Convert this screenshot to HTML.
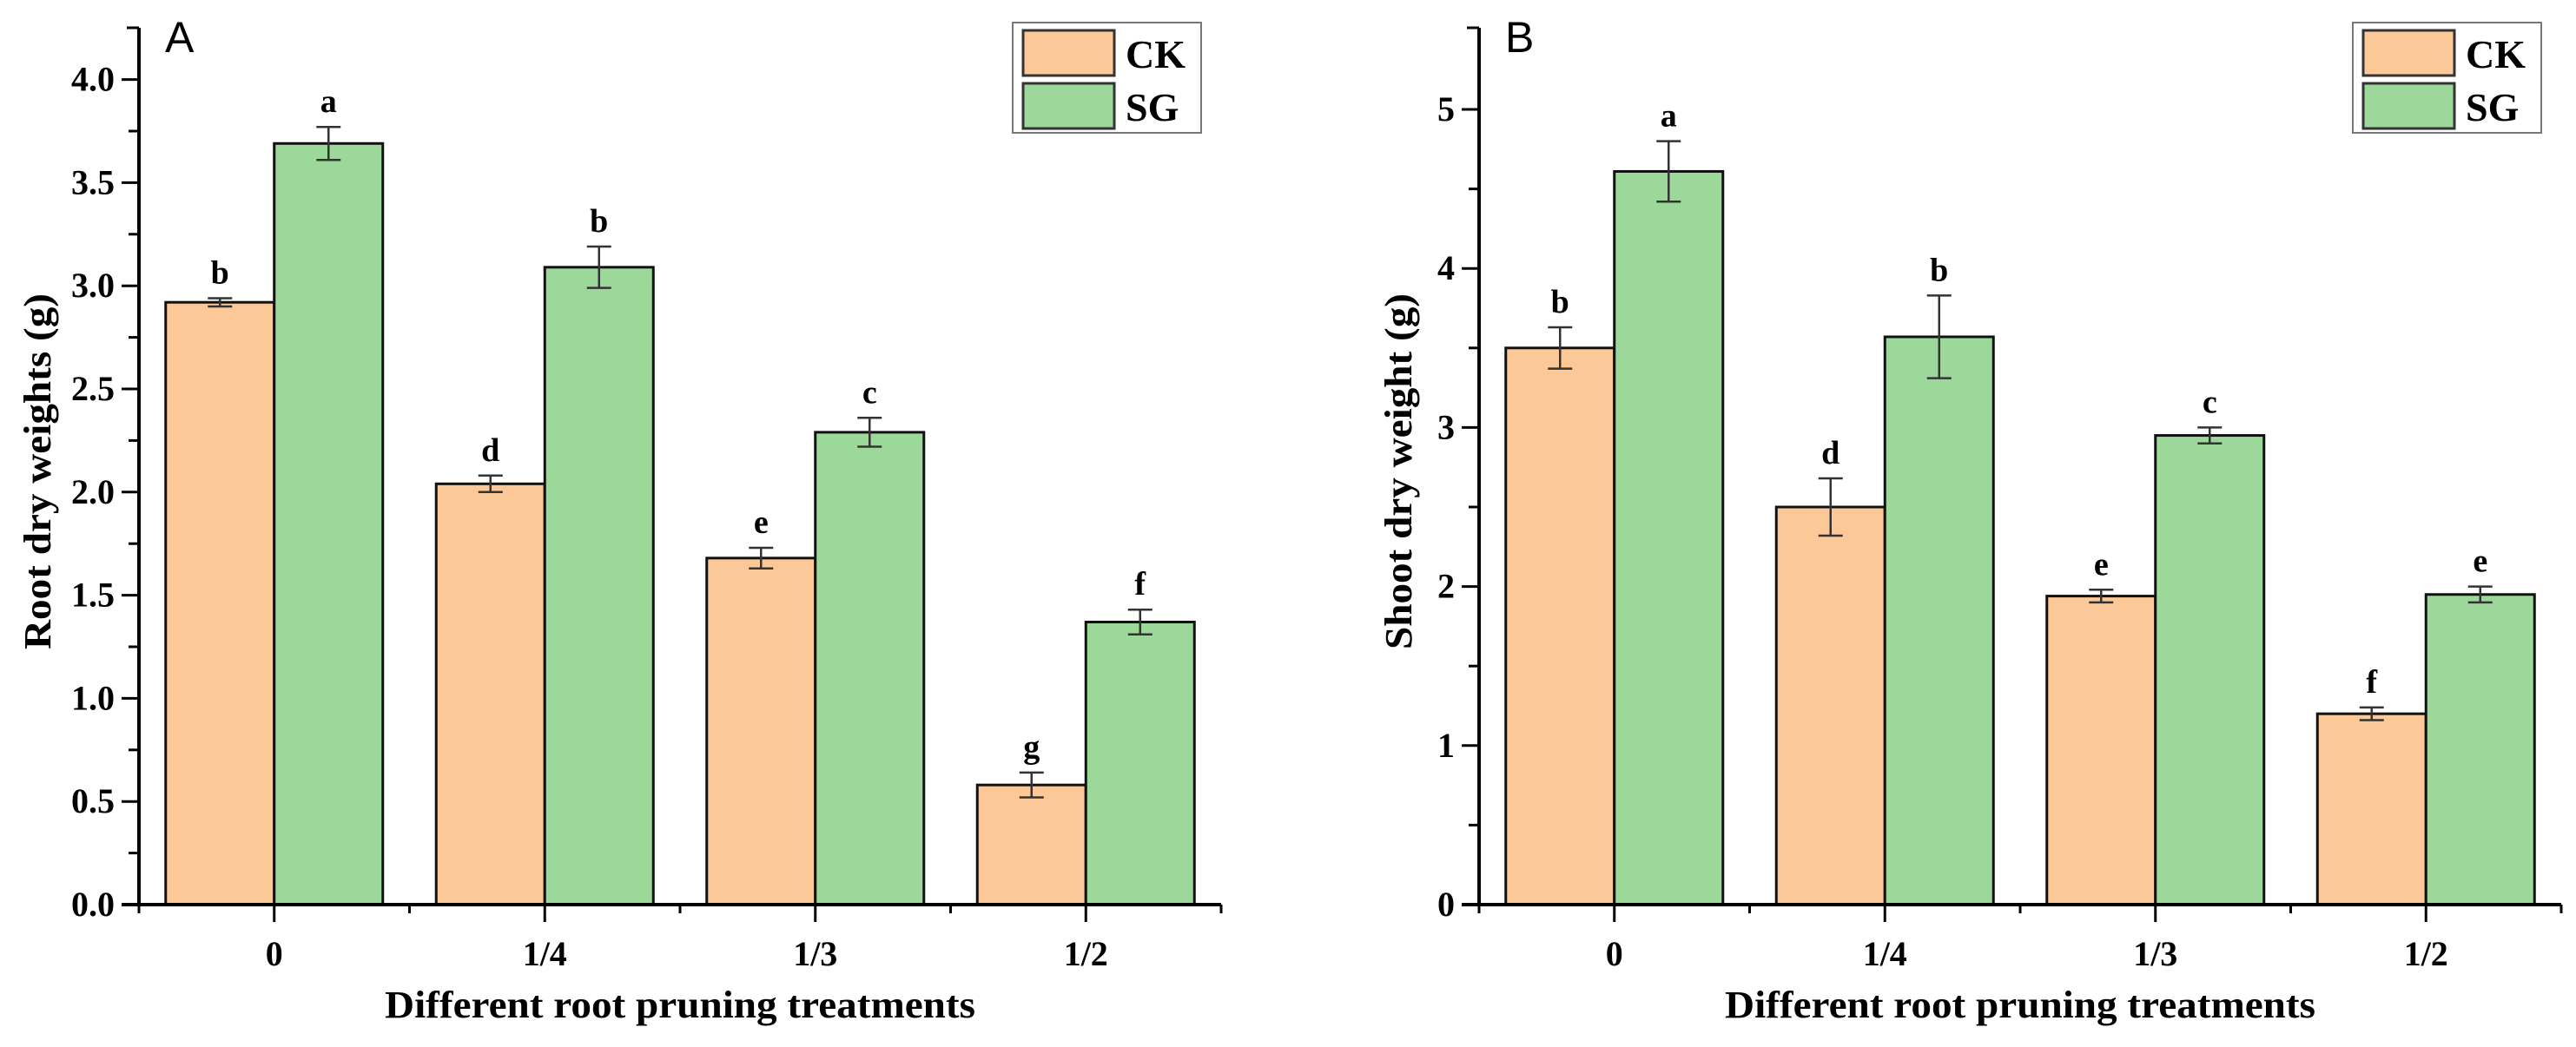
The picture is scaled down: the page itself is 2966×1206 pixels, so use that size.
<!DOCTYPE html>
<html><head><meta charset="utf-8">
<style>
html,body{margin:0;padding:0;background:#fff;}
svg{display:block;}
text{font-family:"Liberation Serif",serif;font-weight:bold;fill:#000;}
</style></head>
<body>
<svg id="chart" width="2966" height="1206" viewBox="0 0 2966 1206" xmlns="http://www.w3.org/2000/svg"></svg>
<script>
const categories = ["0", "1/4", "1/3", "1/2"];
const seriesNames = ["CK", "SG"];
const rootCK = [2.92, 2.04, 1.68, 0.58];
const rootSG = [3.69, 3.09, 2.29, 1.37];
const rootCKErr = [0.02, 0.04, 0.05, 0.06];
const rootSGErr = [0.08, 0.10, 0.07, 0.06];
const rootCKLetters = ["b", "d", "e", "g"];
const rootSGLetters = ["a", "b", "c", "f"];
const rootTicks = ["0.0","0.5","1.0","1.5","2.0","2.5","3.0","3.5","4.0"];
const shootCK = [3.50, 2.50, 1.94, 1.20];
const shootSG = [4.61, 3.57, 2.95, 1.95];
const shootCKErr = [0.13, 0.18, 0.04, 0.04];
const shootSGErr = [0.19, 0.26, 0.05, 0.05];
const shootCKLetters = ["b", "d", "e", "f"];
const shootSGLetters = ["a", "b", "c", "e"];
const shootTicks = ["0","1","2","3","4","5"];

const NS = "http://www.w3.org/2000/svg";
const svg = document.getElementById("chart");
const colors = ["#FCC897", "#9DD89B"];
function mk(tag, attrs, parent){
  const e = document.createElementNS(NS, tag);
  for (const k in attrs) e.setAttribute(k, attrs[k]);
  (parent||svg).appendChild(e);
  return e;
}

function panel(opt){
  const g = mk("g", {});
  
  
  const x0 = opt.axisX, xEnd = opt.axisX + 4*311.5, yBase = 1042, yTop = 32;
  const y = v => yBase - v * opt.pxPerUnit;
  const xc = i => x0 + 311.5*(i+0.5);
  const bw = 125;
  const data = [opt.ck, opt.sg], errs = [opt.ckErr, opt.sgErr], lets = [opt.ckL, opt.sgL];
  for (let s=0;s<2;s++){
    for (let i=0;i<categories.length;i++){
      const left = s===0 ? xc(i)-bw : xc(i);
      const r = mk("rect", {x:left, y:y(data[s][i]), width:bw, height:yBase-y(data[s][i]), fill:colors[s], stroke:"#111", "stroke-width":3}, g);
      
      
      const cx = left + bw/2;
      const eg = mk("g", {stroke:"#333", "stroke-width":2.5}, g);
      
      
      const hi = y(data[s][i]+errs[s][i]), lo = y(data[s][i]-errs[s][i]);
      mk("line", {x1:cx, x2:cx, y1:hi, y2:lo}, eg);
      mk("line", {x1:cx-14, x2:cx+14, y1:hi, y2:hi}, eg);
      mk("line", {x1:cx-14, x2:cx+14, y1:lo, y2:lo}, eg);
      const t = mk("text", {x:cx, y:hi-17, "text-anchor":"middle", "font-size":38}, g);
      t.textContent = lets[s][i];
      
      
    }
  }
  const ax = mk("g", {stroke:"#000", "stroke-width":4}, g);
  
  
  mk("line", {x1:x0, x2:x0, y1:yTop, y2:yBase+2}, ax);
  mk("line", {x1:x0-20, x2:xEnd, y1:yBase, y2:yBase}, ax);
  mk("line", {x1:x0-14, x2:x0, y1:yTop, y2:yTop, "stroke-width":3}, ax);
  for (let k=0;k<opt.ticks.length;k++){
    const v = parseFloat(opt.ticks[k]);
    const yy = y(v);
    mk("line", {x1:x0-20, x2:x0, y1:yy, y2:yy, "stroke-width":3}, ax);
    const t = mk("text", {x:x0-28, y:yy+13, "text-anchor":"end", "font-size":40}, g);
    t.textContent = opt.ticks[k];
    
    
    const vm = v + opt.minor;
    if (y(vm) > yTop+5) mk("line", {x1:x0-12, x2:x0, y1:y(vm), y2:y(vm), "stroke-width":3}, ax);
  }
  for (let i=0;i<=4;i++){
    const xx = x0 + 311.5*i;
    mk("line", {x1:xx, x2:xx, y1:yBase, y2:yBase+10, "stroke-width":3}, ax);
  }
  for (let i=0;i<categories.length;i++){
    mk("line", {x1:xc(i), x2:xc(i), y1:yBase, y2:yBase+20, "stroke-width":3}, ax);
    const t = mk("text", {x:xc(i), y:yBase+70, "text-anchor":"middle", "font-size":40}, g);
    t.textContent = categories[i];
    
    
  }
  const xt = mk("text", {x:(x0+xEnd)/2, y:1172, "text-anchor":"middle", "font-size":44, textLength:680, lengthAdjust:"spacingAndGlyphs"}, g);
  xt.textContent = "Different root pruning treatments";
  
  
  const yt = mk("text", {x:0, y:0, "text-anchor":"middle", "font-size":44, textLength:410, lengthAdjust:"spacingAndGlyphs", transform:"translate("+(opt.ytX)+",543) rotate(-90)"}, g);
  yt.textContent = opt.ytitle;
  
  
  const pl = mk("text", {x:x0+30, y:60, "font-size":50, style:"font-family:'Liberation Sans',sans-serif;font-weight:normal"}, g);
  pl.textContent = opt.label;
  
  
  const lg = mk("g", {}, g);
  
  
  const lx = xEnd - 240;
  mk("rect", {x:lx, y:26, width:217, height:127, fill:"#fff", stroke:"#777", "stroke-width":2}, lg);
  for (let s=0;s<2;s++){
    const ey = 35 + s*61;
    const e = mk("g", {}, lg);
    
    
    mk("rect", {x:lx+12, y:ey, width:105, height:52, fill:colors[s], stroke:"#333", "stroke-width":3}, e);
    const t = mk("text", {x:lx+130, y:ey+43, "font-size":46}, e);
    t.textContent = seriesNames[s];
  }
}

panel({name:"panel-a-root", axisX:160, pxPerUnit:237.6, ticks:rootTicks, minor:0.25,
  ck:rootCK, sg:rootSG, ckErr:rootCKErr, sgErr:rootSGErr, ckL:rootCKLetters, sgL:rootSGLetters,
  ytitle:"Root dry weights (g)", ytX:58, label:"A"});
panel({name:"panel-b-shoot", axisX:1703, pxPerUnit:183.2, ticks:shootTicks, minor:0.5,
  ck:shootCK, sg:shootSG, ckErr:shootCKErr, sgErr:shootSGErr, ckL:shootCKLetters, sgL:shootSGLetters,
  ytitle:"Shoot dry weight (g)", ytX:1625, label:"B"});
</script>
</body></html>
